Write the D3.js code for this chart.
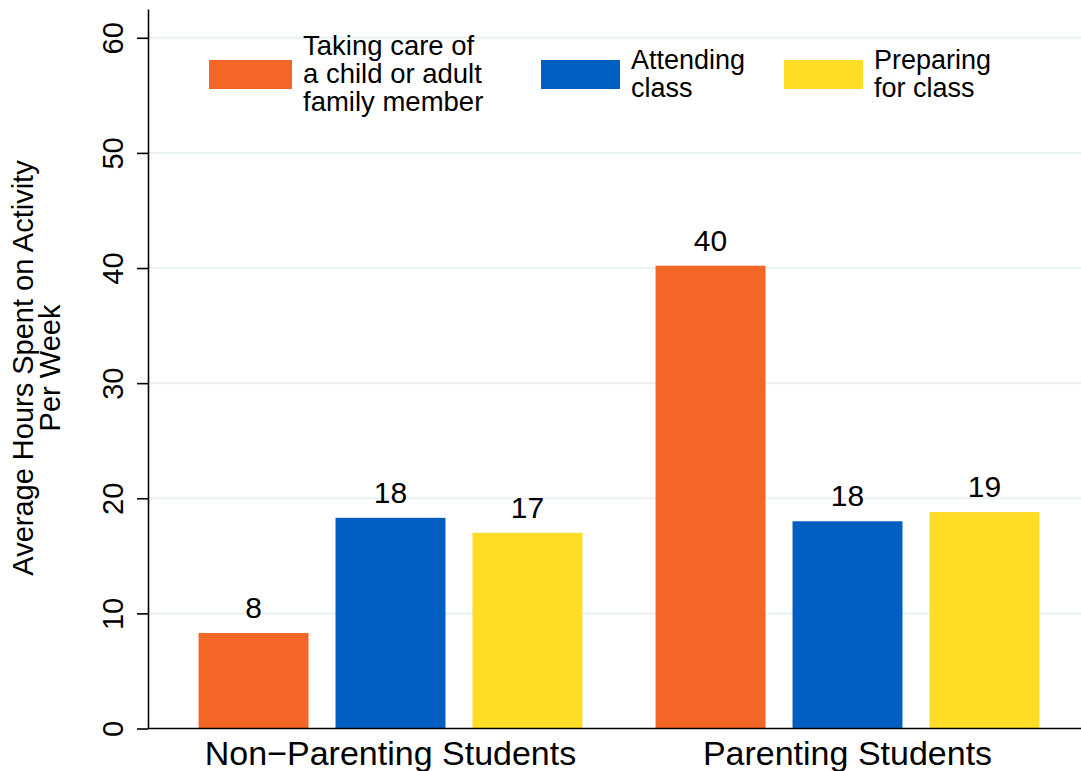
<!DOCTYPE html>
<html>
<head>
<meta charset="utf-8">
<script src="https://cdn.jsdelivr.net/npm/d3@7"></script>
<style>
  body { margin: 0; background: #fff; }
  svg text { font-family: "Liberation Sans", Arial, Helvetica, sans-serif; fill: #000; }
</style>
</head>
<body>
<div id="chart"></div>
<script>
/* Data */
var groups = ["Non\u2212Parenting Students", "Parenting Students"];
var activities = ["care", "attend", "prep"];
var activityLabels = [
    ["Taking care of", "a child or adult", "family member"],
    ["Attending", "class"],
    ["Preparing", "for class"]
];
var colors = ["#f36625", "#025fc2", "#ffdc25"];
var nonParenting = [8.3, 18.3, 17.0];
var parenting = [40.2, 18.0, 18.8];
var yTicks = [0, 10, 20, 30, 40, 50, 60];

var width = 1081, height = 771;
var margin = {top: 9, right: 0, bottom: 42.5, left: 148};

var svg = d3.select("#chart").append("svg")
    .attr("width", width)
    .attr("height", height);

var values = [nonParenting, parenting];
var rows = [];
groups.forEach(function(g, i) {
    activities.forEach(function(a, j) {
        rows.push({group: g, activity: a, idx: j, value: values[i][j]});
    });
});

/* Scales */
var y = d3.scaleLinear()
    .domain([0, 62.5])
    .range([height - margin.bottom, margin.top]);

var x0 = d3.scaleBand()
    .domain(groups)
    .range([162, 1076]);

var x1 = d3.scaleBand()
    .domain(activities)
    .range([0, x0.bandwidth()])
    .paddingInner(0.197)
    .paddingOuter(0.267);

var color = d3.scaleOrdinal().domain(activities).range(colors);

/* Gridlines */
svg.append("g")
    .selectAll("line")
    .data(yTicks.filter(function(d) { return d > 0; }))
    .enter().append("line")
    .attr("x1", margin.left)
    .attr("x2", width)
    .attr("y1", function(d) { return y(d); })
    .attr("y2", function(d) { return y(d); })
    .attr("stroke", "#eaf1f3")
    .attr("stroke-width", 2);

/* Bars */
svg.append("g")
    .selectAll("rect")
    .data(rows)
    .enter().append("rect")
    .attr("x", function(d) { return x0(d.group) + x1(d.activity); })
    .attr("y", function(d) { return y(d.value); })
    .attr("width", x1.bandwidth())
    .attr("height", function(d) { return y(0) - y(d.value); })
    .attr("fill", function(d) { return color(d.activity); });

/* Value labels */
svg.append("g")
    .selectAll("text")
    .data(rows)
    .enter().append("text")
    .attr("x", function(d) { return x0(d.group) + x1(d.activity) + x1.bandwidth() / 2; })
    .attr("y", function(d) { return y(d.value) - 15; })
    .attr("text-anchor", "middle")
    .style("font-size", "30px")
    .text(function(d) { return d3.format(".0f")(d.value); });

/* Y axis */
var yAxis = svg.append("g")
    .attr("transform", "translate(" + margin.left + ",0)")
    .call(d3.axisLeft(y).tickValues(yTicks).tickSize(11).tickSizeOuter(0));

yAxis.select(".domain").attr("stroke", "#000").attr("stroke-width", 1.6);
yAxis.selectAll(".tick line").attr("stroke", "#000").attr("stroke-width", 1.6);
yAxis.selectAll(".tick text")
    .style("font-size", "29px")
    .attr("font-family", null)
    .attr("transform", "rotate(-90)")
    .attr("x", 0)
    .attr("y", -25)
    .attr("dy", 0)
    .attr("text-anchor", "middle");

/* X axis line */
svg.append("line")
    .attr("x1", margin.left)
    .attr("x2", width)
    .attr("y1", y(0))
    .attr("y2", y(0))
    .attr("stroke", "#000")
    .attr("stroke-width", 1.6);

/* Group labels */
svg.append("g")
    .selectAll("text")
    .data(groups)
    .enter().append("text")
    .attr("x", function(d) { return x0(d) + x0.bandwidth() / 2; })
    .attr("y", 765)
    .attr("text-anchor", "middle")
    .style("font-size", "34px")
    .text(function(d) { return d; });

/* Y title */
var yTitle = svg.append("text")
    .attr("transform", "translate(33,368) rotate(-90)")
    .attr("text-anchor", "middle")
    .style("font-size", "29px");
yTitle.append("tspan").attr("x", 0).attr("y", 0).text("Average Hours Spent on Activity");
yTitle.append("tspan").attr("x", 0).attr("y", 27).text("Per Week");

/* Legend */
var legendX = [209, 541, 784];
var leg = svg.append("g")
    .selectAll("g")
    .data(activities)
    .enter().append("g")
    .attr("transform", function(d, i) { return "translate(" + legendX[i] + ",60)"; });

leg.append("rect")
    .attr("width", function(d, i) { return i === 0 ? 83 : 79; })
    .attr("height", 29)
    .attr("fill", function(d) { return color(d); });

leg.each(function(d, i) {
    var lines = activityLabels[i];
    var tx = (i === 0 ? 83 : 79) + 11;
    var firstBase = lines.length === 3 ? -5 : 9;
    var t = d3.select(this).append("text")
        .style("font-size", i === 0 ? "27.5px" : "27px");
    lines.forEach(function(l, k) {
        t.append("tspan")
            .attr("x", tx)
            .attr("y", firstBase + k * 28)
            .text(l);
    });
});
</script>
</body>
</html>
